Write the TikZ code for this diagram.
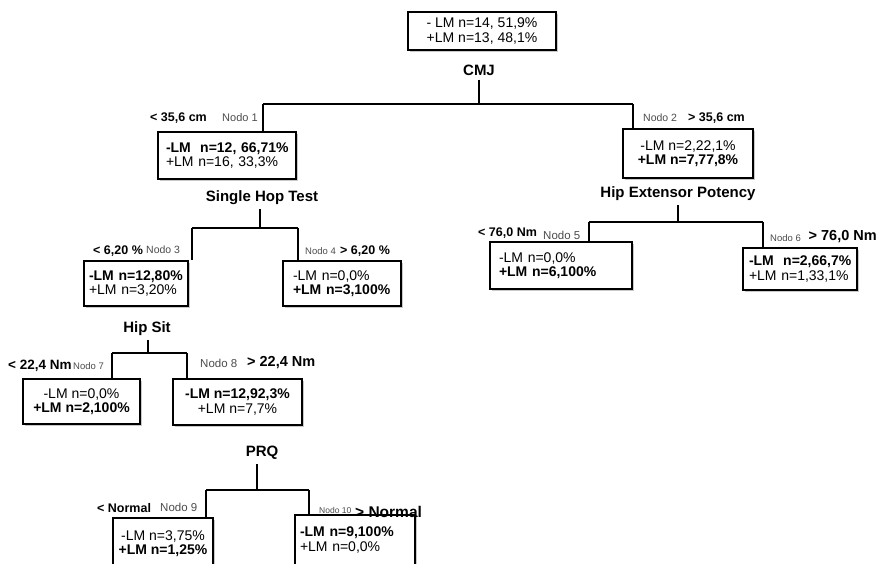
\documentclass[tikz,border=0pt]{standalone}
\usepackage{fontspec}
\setmainfont{Liberation Sans}
\usetikzlibrary{shadows}
\tikzset{
  box/.style={draw, line width=1.2pt, fill=white, inner sep=0pt,
    drop shadow={shadow xshift=1.6pt, shadow yshift=-1.6pt, opacity=0.35, fill=black!60},
    font=\fontsize{14}{14.5}\selectfont},
  thickbox/.style={box, line width=2.4pt},
  titlelbl/.style={font=\fontsize{15}{16}\selectfont\bfseries, inner sep=0pt},
  cond/.style={font=\fontsize{12.5}{14}\selectfont\bfseries, inner sep=0pt, anchor=west},
  nodo/.style={font=\fontsize{10.5}{12}\selectfont, text=black!70, inner sep=0pt, anchor=west},
  link/.style={line width=1.2pt},
}
\begin{document}
\begin{tikzpicture}[x=1pt,y=-1pt]
\clip (0,0) rectangle (878,563);
\fill[white] (0,0) rectangle (878,563);

% boxes
\node[box, minimum width=148, minimum height=38, align=center] (root) at (482,31)
  {- LM n=14, 51,9\%\\+LM n=13, 48,1\%};
\node[box, minimum width=138, minimum height=47, text width=122, align=left] (b1) at (227,155.5)
  {\mbox{\textbf{-LM\ \ n=12, 66,71\%}}\\\mbox{+LM n=16, 33,3\%}};
\node[box, minimum width=130, minimum height=49, align=center] (b2) at (688,153.5)
  {-LM n=2,22,1\%\\\textbf{+LM n=7,77,8\%}};
\node[box, minimum width=104, minimum height=45, text width=94, align=left] (b3) at (136,283.5)
  {\mbox{\textbf{-LM n=12,80\%}}\\\mbox{+LM n=3,20\%}};
\node[thickbox, minimum width=118, minimum height=45, text width=98, align=left] (b4) at (342,283.5)
  {\mbox{-LM n=0,0\%}\\\mbox{\textbf{+LM n=3,100\%}}};
\node[thickbox, minimum width=142, minimum height=47, text width=124, align=left] (b5) at (561,265.5)
  {\mbox{-LM n=0,0\%}\\\mbox{\textbf{+LM n=6,100\%}}};
\node[box, minimum width=114, minimum height=42, text width=102, align=left] (b6) at (800,269)
  {\mbox{\textbf{-LM\ \ n=2,66,7\%}}\\\mbox{+LM n=1,33,1\%}};
\node[box, minimum width=117, minimum height=45, align=center] (b7) at (81.5,401.5)
  {-LM n=0,0\%\\\textbf{+LM n=2,100\%}};
\node[box, minimum width=129, minimum height=46, align=center] (b8) at (237.5,402)
  {\textbf{-LM n=12,92,3\%}\\+LM n=7,7\%};
\node[box, minimum width=100, minimum height=51, align=center] (b9) at (163,543.5)
  {-LM n=3,75\%\\\textbf{+LM n=1,25\%}};
\node[box, minimum width=120, minimum height=50, text width=110, align=left] (b10) at (355,540)
  {\mbox{\textbf{-LM n=9,100\%}}\\\mbox{+LM n=0,0\%}};

% split titles
\node[titlelbl] (cmj) at (479,70) {CMJ};
\node[titlelbl] (sht) at (262,198) {Single Hop Test};
\node[titlelbl] (hep) at (678,194) {Hip Extensor Potency};
\node[titlelbl] (hs) at (147,329) {Hip Sit};
\node[titlelbl] (prq) at (262,453) {PRQ};

% branch coordinates
\coordinate (a0) at (479,104); \coordinate (a1) at (263,104); \coordinate (a2) at (633,104);
\coordinate (s0) at (260,228); \coordinate (s1) at (192,228); \coordinate (s2) at (298,228);
\coordinate (h0) at (678,222); \coordinate (h1) at (589,222); \coordinate (h2) at (763,222);
\coordinate (t0) at (148,353); \coordinate (t1) at (112,353); \coordinate (t2) at (187,353);
\coordinate (p0) at (257,490); \coordinate (p1) at (206,490); \coordinate (p2) at (309,490);

% connectors
\draw[link] ([yshift=-4pt]cmj.south -| a0) -- (a0);
\draw[link] (a1) -- (a2);
\draw[link] (a1) -- (a1 |- b1.north);
\draw[link] (a2) -- (a2 |- b2.north);

\draw[link] ([yshift=-4pt]sht.south -| s0) -- (s0);
\draw[link] (s1) -- (s2);
\draw[link] (s1) -- (s1 |- b3.north);
\draw[link] (s2) -- (s2 |- b4.north);

\draw[link] ([yshift=-4pt]hep.south -| h0) -- (h0);
\draw[link] (h1) -- (h2);
\draw[link] (h1) -- (h1 |- b5.north);
\draw[link] (h2) -- (h2 |- b6.north);

\draw[link] ([yshift=-4pt]hs.south -| t0) -- (t0);
\draw[link] (t1) -- (t2);
\draw[link] (t1) -- (t1 |- b7.north);
\draw[link] (t2) -- (t2 |- b8.north);

\draw[link] ([yshift=-4pt]prq.south -| p0) -- (p0);
\draw[link] (p1) -- (p2);
\draw[link] (p1) -- (p1 |- b9.north);
\draw[link] (p2) -- (p2 |- b10.north);

% condition labels
\node[cond] (l1) at (150,118) {< 35,6 cm};
\node[nodo, font=\fontsize{11}{12}\selectfont] (n1) at (222,118) {Nodo 1};
\node[nodo] (n2) at (643,118) {Nodo 2};
\node[cond] (l2) at (688,118) {> 35,6 cm};
\node[cond] (l3) at (93,251) {< 6,20 \%};
\node[nodo] (n3) at (146,250) {Nodo 3};
\node[nodo, font=\fontsize{9.5}{11}\selectfont] (n4) at (305,251) {Nodo 4};
\node[cond] (l4) at (340,251) {> 6,20 \%};
\node[cond] (l5) at (478,233) {< 76,0 Nm};
\node[nodo, font=\fontsize{11.5}{12}\selectfont] (n5) at (543,235) {Nodo 5};
\node[nodo, font=\fontsize{9.5}{11}\selectfont] (n6) at (770,238) {Nodo 6};
\node[cond, anchor=east, font=\fontsize{14.5}{16}\selectfont\bfseries] (l6) at (877,237) {> 76,0 Nm};
\node[cond, font=\fontsize{13.5}{15}\selectfont\bfseries] (l7) at (8,366) {< 22,4 Nm};
\node[nodo, font=\fontsize{9.5}{11}\selectfont] (n7) at (73,366) {Nodo 7};
\node[nodo, font=\fontsize{11.5}{12}\selectfont] (n8) at (200,363) {Nodo 8};
\node[cond, font=\fontsize{14.5}{16}\selectfont\bfseries] (l8) at (247,363) {> 22,4 Nm};
\node[cond] (l9) at (97,508) {< Normal};
\node[nodo, font=\fontsize{11.5}{12}\selectfont] (n9) at (160,507) {Nodo 9};
\node[nodo, font=\fontsize{8.5}{10}\selectfont] (n10) at (319,510) {Nodo 10};
\node[cond, font=\fontsize{15.5}{17}\selectfont\bfseries] (l10) at (355,512) {> Normal};
\end{tikzpicture}
\end{document}
